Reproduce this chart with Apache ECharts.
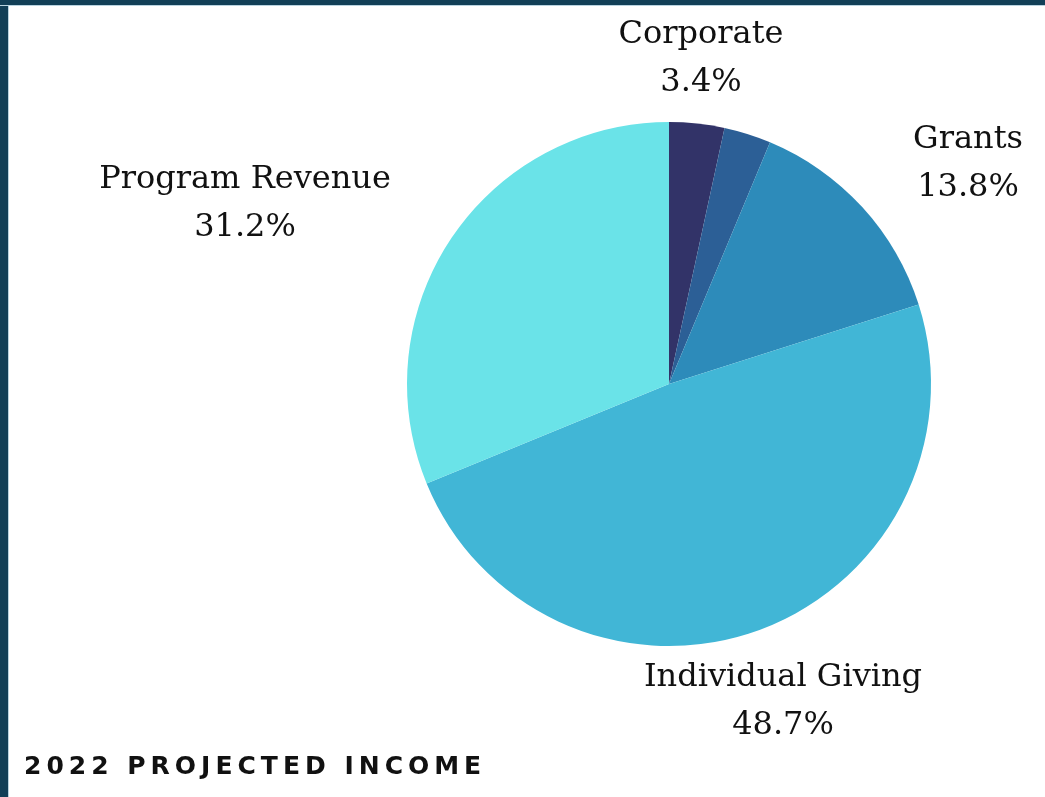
<!DOCTYPE html>
<html lang="en">
<head>
<meta charset="utf-8">
<title>2022 Projected Income</title>
<script src="https://cdn.jsdelivr.net/npm/echarts@6/dist/echarts.min.js"></script>
<style>
  html, body { margin: 0; padding: 0; background: #fff; }
  #chart { position: absolute; left: 0; top: 0; width: 1045px; height: 797px; }
  #frameLeft { position: absolute; left: 0; top: 0; width: 8px; height: 797px; background: #123f57; border-right: 1px solid #b9d3e0; }
  #frameTop { position: absolute; left: 0; top: 0; width: 1045px; height: 5px; background: #123f57; border-bottom: 1px solid #b9d3e0; }
  #title { position: absolute; left: 24px; top: 751px; font-family: 'DejaVu Sans'; font-weight: bold; font-size: 25px; letter-spacing: 5px; color: #111; white-space: nowrap; }
</style>
</head>
<body>
<div id="chart"></div>
<div id="frameLeft"></div>
<div id="frameTop"></div>
<div id="title">2022 PROJECTED INCOME</div>
<script>
const CATEGORIES = ["Corporate", "", "Grants", "Individual Giving", "Program Revenue"];
const VALUES = [3.4, 2.9, 13.8, 48.7, 31.2];
const COLORS = ["#323368", "#2c5f96", "#2d8bba", "#41b6d6", "#6ae3e8"];

// where each label sits (centre x, top y)
const LABEL_POS = {
  "Corporate": [701, 11],
  "Grants": [968, 116],
  "Individual Giving": [783, 654],
  "Program Revenue": [245, 156]
};

var chart = echarts.init(document.getElementById('chart'));
chart.setOption({
  animation: false,
  series: [{
    type: 'pie',
    center: [669, 384],
    radius: 262,
    startAngle: 90,
    clockwise: true,
    avoidLabelOverlap: false,
    itemStyle: { borderWidth: 0 },
    labelLine: { show: false },
    label: {
      show: true,
      position: 'outside',
      fontFamily: 'DejaVu Serif',
      fontSize: 32,
      lineHeight: 48,
      color: '#111',
      align: 'center',
      formatter: function (p) {
        return p.name + '\n' + p.value.toFixed(1) + '%';
      }
    },
    labelLayout: function (params) {
      var pos = LABEL_POS[CATEGORIES[params.dataIndex]];
      if (!pos) return {};
      return { x: pos[0], y: pos[1], align: 'center', verticalAlign: 'top' };
    },
    data: CATEGORIES.map(function (name, i) {
      var item = { name: name, value: VALUES[i], itemStyle: { color: COLORS[i] } };
      if (!name) item.label = { show: false };
      return item;
    })
  }]
});
</script>
</body>
</html>
